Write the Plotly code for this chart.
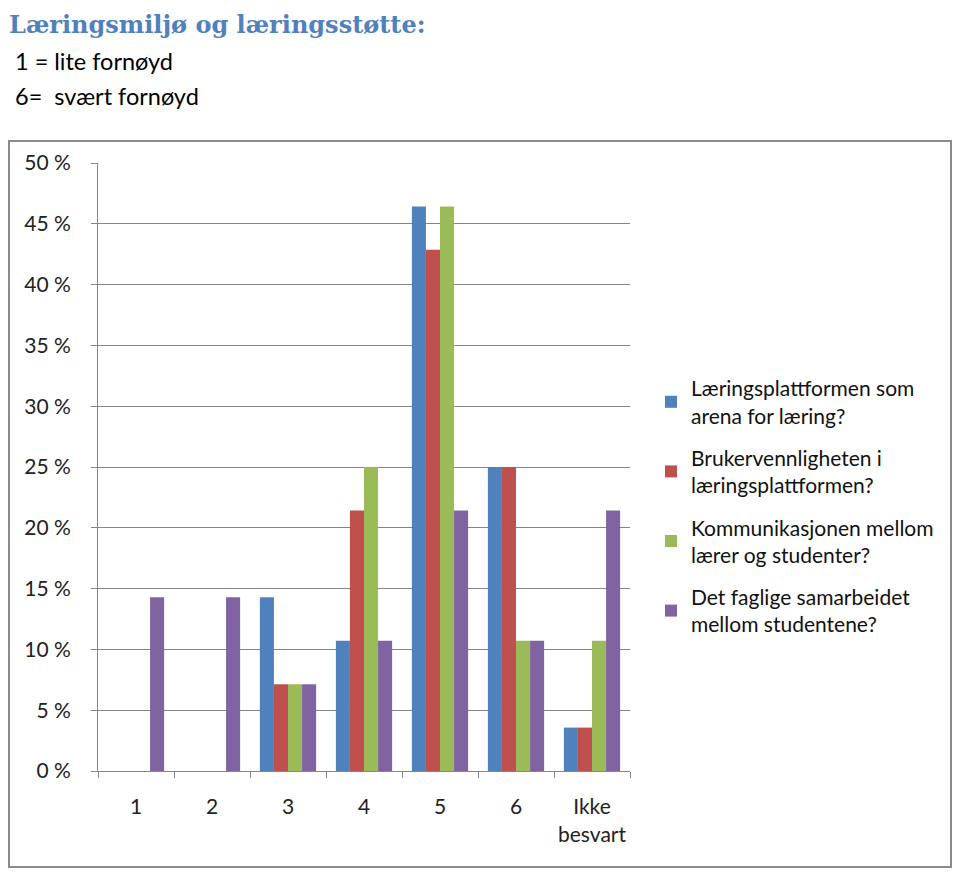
import plotly.graph_objects as go

categories = ["1", "2", "3", "4", "5", "6", "Ikke<br>besvart"]
series_names = [
    "Læringsplattformen som<br>arena for læring?",
    "Brukervennligheten i<br>læringsplattformen?",
    "Kommunikasjonen mellom<br>lærer og studenter?",
    "Det faglige samarbeidet<br>mellom studentene?",
]
blue_vals = [0, 0, 14.29, 10.71, 46.43, 25.0, 3.57]
red_vals = [0, 0, 7.14, 21.43, 42.86, 25.0, 3.57]
green_vals = [0, 0, 7.14, 25.0, 46.43, 10.71, 10.71]
purple_vals = [14.29, 14.29, 7.14, 10.71, 21.43, 10.71, 21.43]
colors = ["#4F81BD", "#C0504D", "#9BBB59", "#8064A2"]

OFF = 8  # page body margin
W, H = 960 - 2 * OFF, 876 - 2 * OFF
L, R, T, B = 98, 630, 163, 771  # page pixel positions of plot area

def px(x):
    return (x - L) / (R - L)

def py(y):
    return (B - y) / (B - T)

fig = go.Figure()
for i, (name, vals) in enumerate(zip(series_names, [blue_vals, red_vals, green_vals, purple_vals])):
    fig.add_trace(go.Bar(x=categories, y=vals, name=name, marker_color=colors[i],
                         marker_line_width=0, legendgroup=str(i)))

sans = "Lato, 'Open Sans', sans-serif"
axis_font = dict(family=sans, size=21, color="#222")
fig.update_layout(
    width=W, height=H,
    margin=dict(l=L - OFF, r=W - (R - OFF), t=T - OFF, b=H - (B - OFF), pad=0, autoexpand=False),
    paper_bgcolor="white", plot_bgcolor="white",
    barmode="group", bargap=0.26, bargroupgap=0,
    showlegend=True,
    legend=dict(x=px(651), y=py(368), xanchor="left", yanchor="top",
                font=dict(family=sans, size=21, color="#111"),
                tracegroupgap=12, itemwidth=30, bgcolor="rgba(0,0,0,0)"),
    xaxis=dict(showline=True, linecolor="#868686", linewidth=1, ticks="outside",
               tickson="boundaries", ticklen=6, tickcolor="#868686", tickangle=0,
               automargin=False,
               tickfont=axis_font, ticklabelstandoff=17, showgrid=False),
    yaxis=dict(range=[0, 50], dtick=5, ticksuffix=" %", showline=True,
               linecolor="#868686", linewidth=1, ticks="outside", ticklen=6,
               tickcolor="#868686", showgrid=True, gridcolor="#868686", gridwidth=1,
               automargin=False,
               tickfont=axis_font, ticklabelstandoff=16, zeroline=False),
    shapes=[dict(type="rect", xref="paper", yref="paper",
                 x0=px(OFF + 1), x1=px(960 - OFF - 1), y0=py(876 - OFF - 1), y1=py(141),
                 line=dict(color="#8c8c8c", width=2), fillcolor="rgba(0,0,0,0)", layer="below")],
    annotations=[
        dict(text="<b>Læringsmiljø og læringsstøtte:</b>", xref="paper", yref="paper",
             x=px(7), y=py(OFF), xanchor="left", yanchor="top", showarrow=False,
             font=dict(family="'DejaVu Serif', serif", size=24, color="#4F81BD")),
        dict(text="1 = lite fornøyd", xref="paper", yref="paper",
             x=px(13), y=py(61), xanchor="left", yanchor="middle", showarrow=False,
             font=dict(family=sans, size=23.5, color="#000")),
        dict(text="6=  svært fornøyd", xref="paper", yref="paper",
             x=px(13), y=py(96), xanchor="left", yanchor="middle", showarrow=False,
             font=dict(family=sans, size=23.5, color="#000")),
    ],
)

fig.write_html("out.html")
